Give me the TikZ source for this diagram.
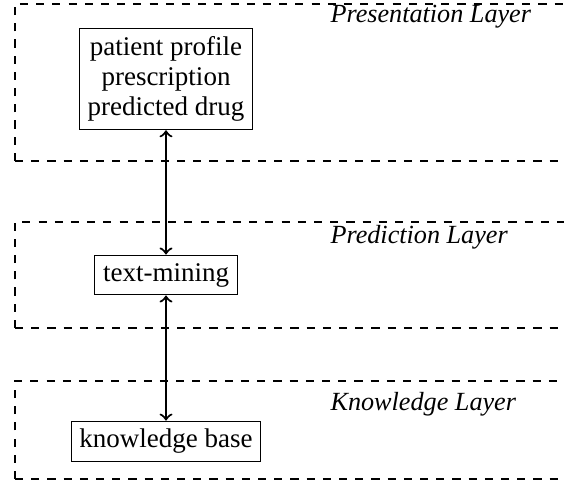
\documentclass[tikz,border=0pt]{standalone}
\usepackage{fontspec}
\setmainfont{Liberation Serif}
\begin{document}
\begin{tikzpicture}[x=0.37037pt,y=-0.37037pt,
  layer/.style={draw,dashed,thick},
  box/.style={draw,line width=0.4pt,inner sep=3pt,align=center,font=\fontsize{10}{11.2}\selectfont},
  lbl/.style={anchor=west,inner sep=0pt,font=\fontsize{9.7}{12}\selectfont\itshape},
  link/.style={thick,<->}]
\useasboundingbox (0,0) rectangle (564,484);
\clip (0,0) rectangle (564,484);
\draw[layer] (15,161) -- (15,4) -- (600,4);
\draw[layer] (15,161) -- (600,161);
\draw[layer] (15,328) -- (15,222) -- (600,222);
\draw[layer] (15,328) -- (600,328);
\draw[layer] (15,479) -- (15,381) -- (600,381);
\draw[layer] (15,479) -- (600,479);
\node[lbl] (l1) at (330,16.5) {Presentation Layer};
\node[lbl] (l2) at (330,237) {Prediction Layer};
\node[lbl] (l3) at (330,404) {Knowledge Layer};
\node[box] (pres) at (166,79) {patient profile\\prescription\\predicted drug};
\node[box] (tm) at (166,275) {text-mining};
\node[box] (kb) at (166,441.5) {knowledge base};
\draw[link] (pres) -- (tm);
\draw[link] (tm) -- (kb);
\end{tikzpicture}
\end{document}
